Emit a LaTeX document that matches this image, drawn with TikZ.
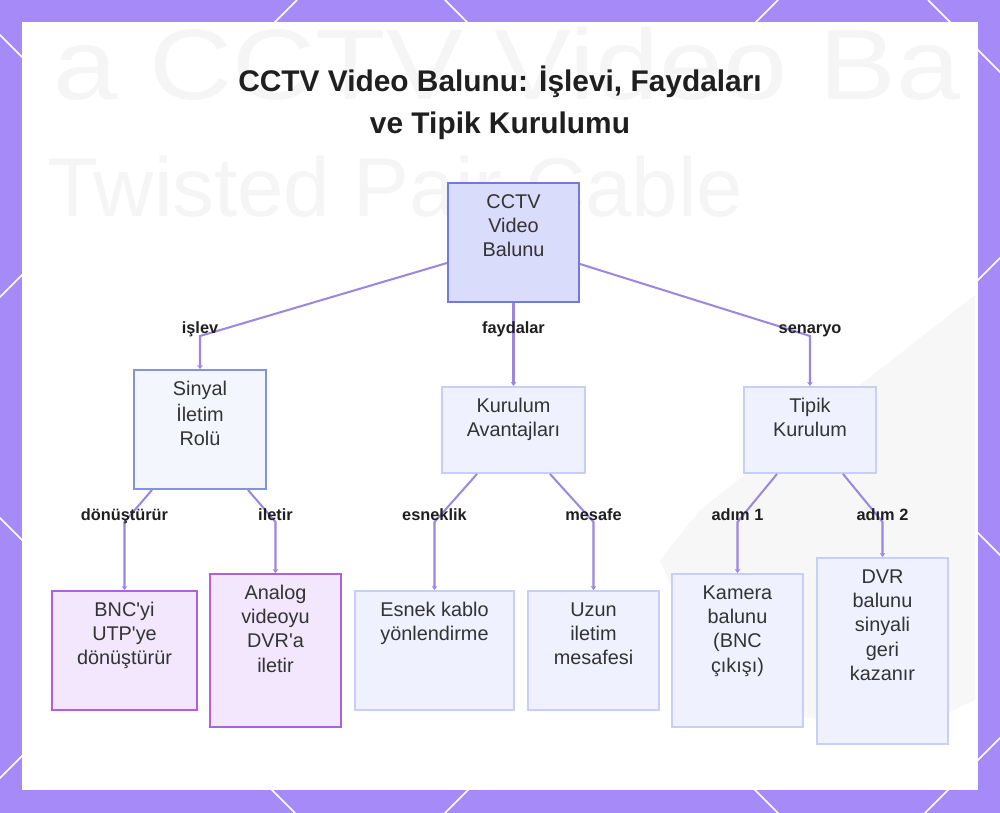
\documentclass[tikz,border=0pt]{standalone}
\usepackage{fontspec}
\setmainfont{Liberation Sans}
\usetikzlibrary{arrows.meta}
\usetikzlibrary{positioning}
\definecolor{bgpurple}{HTML}{A68BF8}
\definecolor{lnk}{HTML}{9B86E0}
\definecolor{txt}{HTML}{333333}
\definecolor{lbltxt}{HTML}{1F1F1F}
\definecolor{rootfill}{HTML}{D9DCFB}
\definecolor{rootdraw}{HTML}{6F7BD6}
\definecolor{midfill}{HTML}{F4F6FE}
\definecolor{middraw}{HTML}{8593DE}
\definecolor{softfill}{HTML}{EFF2FE}
\definecolor{softdraw}{HTML}{C8CEF6}
\definecolor{purfill}{HTML}{F3E7FD}
\definecolor{purdraw}{HTML}{B05FE3}
\tikzset{box/.style={draw, line width=1.1pt, inner sep=0pt, text=txt,
    font=\fontsize{11.3}{13.9}\selectfont}}
\tikzset{rootbox/.style={box, fill=rootfill, draw=rootdraw}}
\tikzset{midbox/.style={box, fill=midfill, draw=middraw}}
\tikzset{softbox/.style={box, fill=softfill, draw=softdraw}}
\tikzset{purplebox/.style={box, fill=purfill, draw=purdraw}}
\tikzset{conn/.style={draw=lnk, line width=1.15pt, -{Stealth[length=0.8mm,width=1.1mm]}}}
\tikzset{elabel/.style={font=\fontsize{9.3}{11}\selectfont\bfseries, text=lbltxt,
    inner sep=0pt, anchor=base}}
\tikzset{wmark/.style={text=black!4, inner sep=0pt, anchor=base west}}
\newcommand{\btxt}[3]{\parbox[c][#2][t]{#1}{\centering\vspace*{1.6mm}\strut #3}}

\begin{document}
\begin{tikzpicture}
        \useasboundingbox (0,0) rectangle (20,-16.26);
        % frame with diagonal pattern
        \fill[bgpurple] (0,0) rectangle (20,-16.26);
        \begin{scope}
            \clip (0,0) rectangle (20,-16.26);
            \foreach \c in {5.94,15.56,25.16,34.76}
                \draw[white, line width=0.9pt] (\c,0) -- ++(-20,-20);
            \foreach \d in {-10.36,-0.7,8.9,18.56}
                \draw[white, line width=0.9pt] (\d,0) -- ++(20,-20);
        \end{scope}
        \fill[white] (0.44,-0.44) rectangle (19.56,-15.8);

        % faded background
        \begin{scope}
            \clip (0.44,-0.44) rectangle (19.56,-15.8);
            \fill[black!3] (13.2,-11.2) -- (14,-10.2) -- (19.5,-5.9)
                -- (19.5,-14) -- (18,-14.7) -- (14.4,-14) -- cycle;
            \node[wmark, font=\fontsize{57}{60}\selectfont, xscale=1.15] (wm1) at (1.06,-2.0) {a CCTV Video Ba};
            \node[wmark, font=\fontsize{47.5}{50}\selectfont] (wm2) at (0.94,-4.34) {Twisted Pair Cable};
        \end{scope}

        \node[anchor=north, align=center, text=lbltxt, inner sep=0pt,
            font=\fontsize{17}{23.8}\selectfont\bfseries] (ttl) at (10,-1.32)
            {CCTV Video Balunu: İşlevi, Faydaları\\ve Tipik Kurulumu};

        \node[rootbox] (root) at (10.27,-4.85) {\btxt{2.62cm}{2.38cm}{CCTV\\Video\\Balunu}};
        \node[midbox] (sin) at (4.0,-8.59) {\btxt{2.64cm}{2.38cm}{Sinyal\\İletim\\Rolü}};
        \node[softbox] (kur) at (10.27,-8.6) {\btxt{2.86cm}{1.72cm}{Kurulum\\Avantajları}};
        \node[softbox] (tip) at (16.2,-8.6) {\btxt{2.64cm}{1.72cm}{Tipik\\Kurulum}};

        \node[purplebox] (bnc) at (2.49,-13.01) {\btxt{2.9cm}{2.38cm}{BNC\textquotesingle yi\\UTP\textquotesingle ye\\dönüştürür}};
        \node[purplebox] (ana) at (5.51,-13.01) {\btxt{2.62cm}{3.06cm}{Analog\\videoyu\\DVR\textquotesingle a\\iletir}};
        \node[softbox] (esn) at (8.69,-13.01) {\btxt{3.18cm}{2.38cm}{Esnek kablo\\yönlendirme}};
        \node[softbox] (uzn) at (11.87,-13.01) {\btxt{2.62cm}{2.38cm}{Uzun\\iletim\\mesafesi}};
        \node[softbox] (kam) at (14.75,-13.01) {\btxt{2.62cm}{3.06cm}{Kamera\\balunu\\(BNC\\çıkışı)}};
        \node[softbox] (dvr) at (17.65,-13.02) {\btxt{2.62cm}{3.72cm}{DVR\\balunu\\sinyali\\geri\\kazanır}};

        \draw[conn] ([yshift=-4.1mm]root.west) -- (sin.north |- 0,-6.72)
            node[elabel,yshift=0.55mm] {işlev} -- (sin.north);
        \draw[conn] (root.south) -- (kur.north |- 0,-6.72)
            node[elabel,yshift=0.55mm] {faydalar} -- (kur.north);
        \draw[conn] ([yshift=-4.3mm]root.east) -- (tip.north |- 0,-6.72)
            node[elabel,yshift=0.55mm] {senaryo} -- (tip.north);

        \draw[conn] ([xshift=-9.6mm]sin.south) -- (bnc.north |- 0,-10.44)
            node[elabel,yshift=0.35mm] {dönüştürür} -- (bnc.north);
        \draw[conn] ([xshift=9.6mm]sin.south) -- (ana.north |- 0,-10.44)
            node[elabel,yshift=0.35mm] {iletir} -- (ana.north);
        \draw[conn] ([xshift=-7.3mm]kur.south) -- (esn.north |- 0,-10.44)
            node[elabel,yshift=0.35mm] {esneklik} -- (esn.north);
        \draw[conn] ([xshift=7.3mm]kur.south) -- (uzn.north |- 0,-10.44)
            node[elabel,yshift=0.35mm] {mesafe} -- (uzn.north);
        \draw[conn] ([xshift=-6.6mm]tip.south) -- (kam.north |- 0,-10.44)
            node[elabel,yshift=0.35mm] {adım 1} -- (kam.north);
        \draw[conn] ([xshift=6.6mm]tip.south) -- (dvr.north |- 0,-10.44)
            node[elabel,yshift=0.35mm] {adım 2} -- (dvr.north);
\end{tikzpicture}
\end{document}
